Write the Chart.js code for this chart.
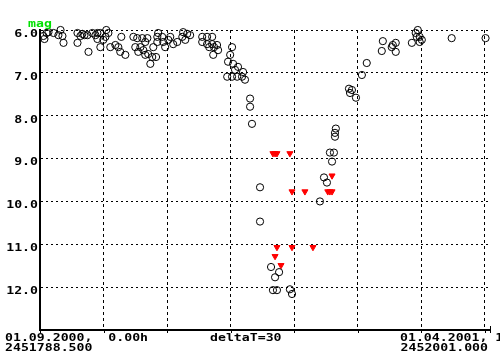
<!DOCTYPE html>
<html>
<head>
<meta charset="utf-8">
<script src="https://cdn.jsdelivr.net/npm/chart.js@4.4.0/dist/chart.umd.min.js"></script>
<style>
  html, body { margin: 0; padding: 0; background: #fff; }
  canvas { display: block; }
</style>
</head>
<body>
<canvas id="lightCurve" width="500" height="360"></canvas>
<script>
// x values are days after JD 2451788.5, y values are magnitudes
const jdStart = "2451788.500";
const jdEnd = "2452001.000";
const dayRange = 212.5;

// visual estimates (circles)
const obsDays = [
  1.6, 3.1, 2.1, 4.0, 6.4, 8.7, 9.7, 10.6, 11.1, 17.7, 19.1, 20.0, 17.7, 22.9, 22.4, 24.7, 26.2, 28.5, 28.5, 30.9, 31.3, 33.2, 29.9, 27.1, 35.6, 21.0, 27.1, 32.3,
  38.4, 37.0, 37.9, 40.3, 44.1, 45.9, 48.3, 50.7, 45.0, 47.4, 48.8, 51.1, 53.0, 52.1, 55.4, 55.4, 57.7, 58.2, 59.1, 61.5, 62.9, 64.8, 67.2, 67.6, 69.5, 70.9, 68.6, 55.8, 60.6, 49.7, 46.4, 53.5, 49.7, 54.8,
  76.6, 78.9, 81.3, 76.6, 78.9, 81.3, 83.6, 81.8, 84.1, 90.7, 89.8, 88.8, 91.2, 93.5, 92.1, 88.4, 90.7, 95.4, 95.9, 96.8, 93.1, 99.2, 99.2, 100.1, 79.9, 82.2,
  103.9, 103.9, 109.1, 112.9, 111.0, 110.0, 111.9, 118.0, 119.0,
  132.2, 134.1, 135.5, 136.9, 138.8, 137.9, 139.3, 139.3, 139.7, 145.9, 147.3, 149.2, 146.4, 152.0, 154.3,
  161.9, 161.4, 166.1, 168.0, 168.0, 166.6, 175.6, 177.4, 178.4, 179.3, 179.3, 180.3, 177.9, 194.4, 210.4
];
const obsMags = [
  6.14, 6.07, 6.21, 6.05, 6.07, 6.12, 6.00, 6.14, 6.30, 6.07, 6.14, 6.09, 6.30, 6.51, 6.12, 6.07, 6.12, 6.40, 6.07, 6.16, 6.00, 6.40, 6.23, 6.21, 6.35, 6.12, 6.07, 6.07,
  6.16, 6.40, 6.51, 6.58, 6.16, 6.19, 6.19, 6.19, 6.40, 6.40, 6.47, 6.56, 6.63, 6.79, 6.16, 6.28, 6.16, 6.28, 6.40, 6.16, 6.33, 6.28, 6.16, 6.05, 6.09, 6.12, 6.23, 6.07, 6.23, 6.28, 6.51, 6.40, 6.58, 6.63,
  6.16, 6.16, 6.16, 6.28, 6.33, 6.33, 6.35, 6.58, 6.47, 6.40, 6.58, 6.74, 6.79, 6.86, 6.93, 7.09, 7.09, 7.09, 6.98, 7.16, 7.09, 7.60, 7.79, 8.19, 6.40, 6.40,
  9.67, 10.47, 11.53, 11.65, 11.77, 12.07, 12.07, 12.05, 12.16,
  10.00, 9.44, 9.56, 8.86, 8.86, 9.07, 8.40, 8.49, 8.30, 7.37, 7.40, 7.58, 7.47, 7.05, 6.77,
  6.26, 6.49, 6.40, 6.30, 6.51, 6.35, 6.30, 6.07, 6.00, 6.16, 6.28, 6.23, 6.16, 6.19, 6.19
];

// "fainter than" limits (red triangles)
const limitDays = [110.0, 111.0, 111.9, 118.0, 119.0, 125.1, 135.9, 136.9, 137.9, 137.9, 111.9, 119.0, 128.9, 111.0, 113.8];
const limitMags = [8.88, 8.88, 8.88, 8.88, 9.77, 9.77, 9.77, 9.77, 9.77, 9.40, 11.07, 11.07, 11.07, 11.28, 11.49];

const dayTicks = [0, 30, 60, 90, 120, 150, 180, 210];
const magTicks = [6, 7, 8, 9, 10, 11, 12, 13];
const magLabels = ["6.0", "7.0", "8.0", "9.0", "10.0", "11.0", "12.0", ""];
const startLabel = "01.09.2000,  0.00h";
const endLabel = "01.04.2001, 1";
const stepLabel = "deltaT=30";
const axisName = "mag";

const toPoints = (xs, ys) => xs.map((d, i) => ({ x: d, y: ys[i] }));

// wide bitmap-like text: monospace bold, stretched sideways
function wideText(ctx, text, x, y, align) {
  ctx.save();
  ctx.translate(x, y);
  ctx.scale(1.2, 1);
  ctx.textAlign = align;
  ctx.fillText(text, 0, 0);
  ctx.restore();
}

const frameText = {
  id: "frameText",
  afterDraw(chart) {
    const { ctx, chartArea: a, scales } = chart;
    ctx.save();
    ctx.strokeStyle = "#000";
    ctx.lineWidth = 1;
    ctx.beginPath();
    dayTicks.forEach(d => {
      const px = Math.round(scales.x.getPixelForValue(d)) + 0.5;
      ctx.moveTo(px, a.bottom);
      ctx.lineTo(px, a.bottom + 3);
    });
    const endPx = Math.round(scales.x.getPixelForValue(dayRange)) + 0.5;
    ctx.moveTo(endPx, a.bottom - 4);
    ctx.lineTo(endPx, a.bottom + 3);
    ctx.stroke();

    ctx.font = "bold 11px 'DejaVu Sans Mono'";
    ctx.textBaseline = "middle";
    ctx.fillStyle = "#000";
    magTicks.forEach((m, i) => {
      if (!magLabels[i]) return;
      wideText(ctx, magLabels[i], a.left - 2, scales.y.getPixelForValue(m) + 4, "right");
    });

    ctx.textBaseline = "alphabetic";
    wideText(ctx, startLabel, 5, a.bottom + 11, "left");
    wideText(ctx, jdStart, 5, a.bottom + 21, "left");
    wideText(ctx, stepLabel, 210, a.bottom + 11, "left");
    wideText(ctx, endLabel, 400, a.bottom + 11, "left");
    wideText(ctx, jdEnd, 488, a.bottom + 21, "right");

    ctx.fillStyle = "#00e000";
    wideText(ctx, axisName, 28, a.top - 3, "left");
    ctx.restore();
  }
};

new Chart(document.getElementById("lightCurve"), {
  type: "scatter",
  data: {
    datasets: [
      {
        label: "visual",
        data: toPoints(obsDays, obsMags),
        pointStyle: "circle",
        pointRadius: 3.6,
        pointBorderWidth: 1,
        borderColor: "#000",
        backgroundColor: "rgba(0,0,0,0)",
        clip: false
      },
      {
        label: "fainter than",
        data: toPoints(limitDays, limitMags),
        pointStyle: "triangle",
        pointRotation: 180,
        pointRadius: 3.5,
        pointBorderWidth: 1,
        borderColor: "#ff0000",
        backgroundColor: "#ff0000",
        clip: false
      }
    ]
  },
  options: {
    responsive: false,
    animation: false,
    events: [],
    layout: { padding: { left: 40, right: 10, top: 30, bottom: 30 } },
    plugins: {
      legend: { display: false },
      tooltip: { enabled: false }
    },
    scales: {
      x: {
        type: "linear",
        min: 0,
        max: dayRange,
        afterBuildTicks: s => { s.ticks = dayTicks.map(v => ({ value: v })); },
        ticks: { display: false },
        grid: { color: "#000", lineWidth: 1, drawTicks: false },
        border: { display: true, color: "#000", width: 2, dash: [3, 3] }
      },
      y: {
        type: "linear",
        reverse: true,
        min: 6,
        max: 13,
        afterBuildTicks: s => { s.ticks = magTicks.map(v => ({ value: v })); },
        ticks: { display: false },
        grid: { color: "#000", lineWidth: 1, drawTicks: false },
        border: { display: true, color: "#000", width: 2, dash: [2, 3] }
      }
    }
  },
  plugins: [frameText]
});
</script>
</body>
</html>
